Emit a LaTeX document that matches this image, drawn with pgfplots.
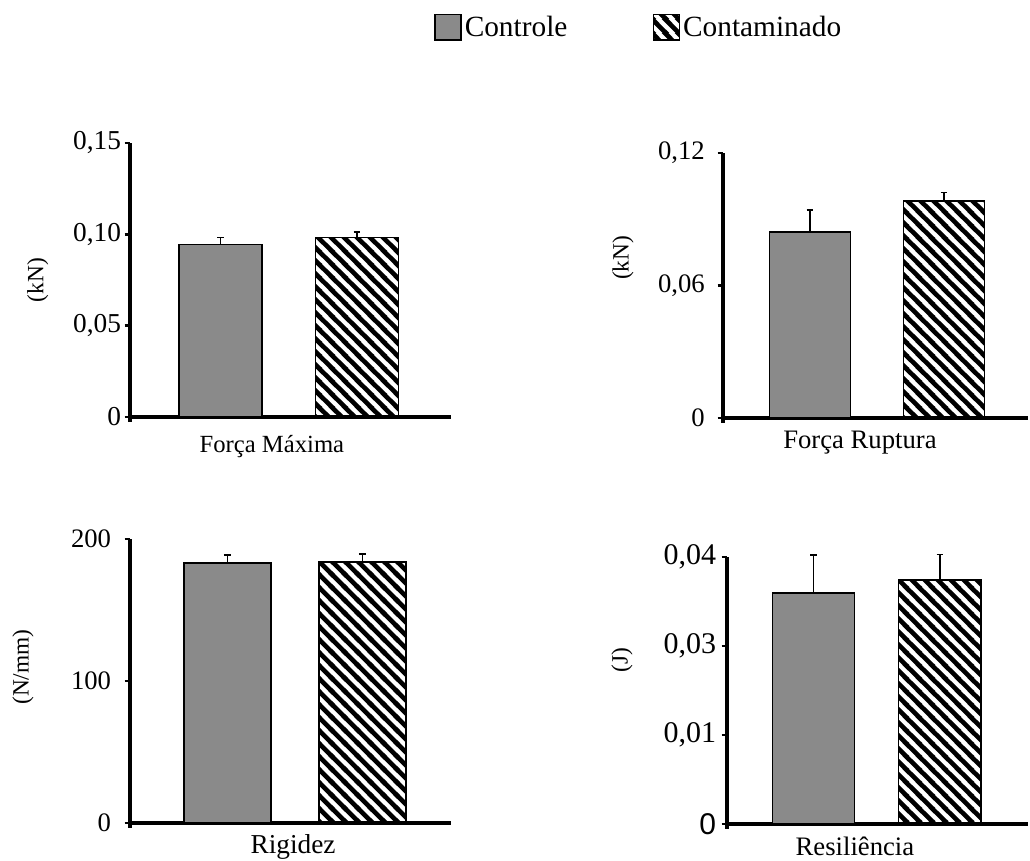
\documentclass[border=0pt]{standalone}
\usepackage{fontspec}
\setmainfont{Liberation Serif}
\newfontfamily\arialfont{Liberation Sans}
\usepackage{pgfplots}
\pgfplotsset{compat=1.18}
\usetikzlibrary{patterns}

\pgfdeclarepatternformonly{widelines}{\pgfqpoint{0pt}{0pt}}{\pgfqpoint{10pt}{10pt}}{\pgfqpoint{10pt}{10pt}}{%
  \pgfsetlinewidth{3.6pt}%
  \pgfpathmoveto{\pgfqpoint{-3pt}{13pt}}\pgfpathlineto{\pgfqpoint{13pt}{-3pt}}%
  \pgfpathmoveto{\pgfqpoint{-3pt}{3pt}}\pgfpathlineto{\pgfqpoint{3pt}{-3pt}}%
  \pgfpathmoveto{\pgfqpoint{7pt}{13pt}}\pgfpathlineto{\pgfqpoint{13pt}{7pt}}%
  \pgfusepath{stroke}}

\definecolor{ctrlgray}{RGB}{138,138,138}

\pgfplotsset{
  panel/.style={
    scale only axis,
    axis lines=left,
    axis line style={-, line width=2.8pt, black},
    y axis line style={shorten <=-3.5pt},
    xtick=\empty,
    tick align=outside,
    major tick length=4pt,
    tick style={line width=2pt, black},
    clip=false,
    ymin=0,
    scaled y ticks=false,
    yticklabel style={inner sep=2.5pt},
    xlabel style={anchor=center},
    ylabel style={font=\fontsize{17.5}{20}\selectfont, anchor=center},
    legend image code/.code={\draw[#1, line width=1.3pt] (0pt,-9.5pt) rectangle (19.5pt,9.5pt);},
    error bars/y dir=plus,
    error bars/y explicit,
    error bars/error bar style={black, line width=1pt},
    error bars/error mark options={black, rotate=90, mark size=2.6pt, line width=1pt},
  },
  ctrl/.style={ybar, bar shift=0pt, draw=black, line width=1.1pt, fill=ctrlgray},
  cont/.style={ybar, bar shift=0pt, draw=black, line width=1.1pt, pattern=widelines},
}

\begin{document}
\begin{tikzpicture}
\path[use as bounding box] (0pt,0pt) rectangle (772.5pt,645pt);

% Panel 1: Força Máxima
\begin{axis}[panel,
  at={(97.5pt,332.25pt)}, anchor=origin,
  width=240.75pt, height=205.5pt,
  xmin=0.337, xmax=2.689, ymax=0.15,
  bar width=0.605,
  ytick={0,0.05,0.10,0.15},
  yticklabels={0,{0,05},{0,10},{0,15}},
  yticklabel style={font=\fontsize{20.5}{23}\selectfont},
  xlabel={Força Máxima},
  xlabel style={font=\fontsize{18.5}{22}\selectfont, at={(axis description cs:0.442,-0.109)}},
  ylabel={(kN)},
  ylabel style={at={(axis description cs:-0.287,0.50)}},
  legend style={at={(axis description cs:1.586,1.423)}, anchor=center, draw=none,
    font=\fontsize{22}{26}\selectfont, legend columns=2,
    /tikz/every even column/.append style={column sep=62pt}},
]
\addplot[ctrl] coordinates {(1,0.0945) +- (0,0.0039)};
\addlegendentry{Controle}
\addplot[cont] coordinates {(2,0.0984) +- (0,0.0029)};
\addlegendentry{Contaminado}
\end{axis}

% Panel 2: Força Ruptura
\begin{axis}[panel,
  at={(542.25pt,331.5pt)}, anchor=origin,
  width=228.75pt, height=198.75pt,
  xmin=0.351, xmax=2.627, ymax=0.12,
  bar width=0.604,
  ytick={0,0.06,0.12},
  yticklabels={0,{0,06},{0,12}},
  yticklabel style={font=\fontsize{20}{23}\selectfont, xshift=-7pt},
  xlabel={Força Ruptura},
  xlabel style={font=\fontsize{20}{23}\selectfont, at={(axis description cs:0.449,-0.094)}},
  ylabel={(kN)},
  ylabel style={at={(axis description cs:-0.328,0.604)}},
]
\addplot[ctrl] coordinates {(1,0.0842) +- (0,0.0100)};
\addplot[cont] coordinates {(2,0.0983) +- (0,0.0039)};
\end{axis}

% Panel 3: Rigidez
\begin{axis}[panel,
  at={(97.5pt,27.75pt)}, anchor=origin,
  width=240.75pt, height=213pt,
  xmin=0.278, xmax=2.656, ymax=200,
  bar width=0.644,
  ytick={0,100,200},
  yticklabels={0,100,200},
  yticklabel style={font=\fontsize{20}{23}\selectfont, xshift=-7.5pt},
  xlabel={Rigidez},
  xlabel style={font=\fontsize{20.5}{23}\selectfont, at={(axis description cs:0.508,-0.085)}},
  ylabel={(N/mm)},
  ylabel style={at={(axis description cs:-0.333,0.549)}},
]
\addplot[ctrl] coordinates {(1,183.1) +- (0,5.6)};
\addplot[cont] coordinates {(2,183.8) +- (0,5.6)};
\end{axis}

% Panel 4: Resiliência
\begin{axis}[panel,
  at={(545.25pt,27pt)}, anchor=origin,
  width=225.75pt, height=200.25pt,
  xmin=0.316, xmax=2.696, ymax=0.04,
  bar width=0.652,
  ytick={0,0.0133333,0.0266667,0.04},
  yticklabels={{\arialfont 0},{0,01},{0,03},{0,04}},
  yticklabel style={font=\fontsize{22.5}{25}\selectfont, xshift=-1.5pt},
  xlabel={Resiliência},
  xlabel style={font=\fontsize{20}{23}\selectfont, at={(axis description cs:0.425,-0.084)}},
  ylabel={(J)},
  ylabel style={at={(axis description cs:-0.349,0.614)}},
]
\addplot[ctrl] coordinates {(1,0.0346) +- (0,0.0057)};
\addplot[cont] coordinates {(2,0.03655) +- (0,0.0038)};
\end{axis}
\end{tikzpicture}
\end{document}
